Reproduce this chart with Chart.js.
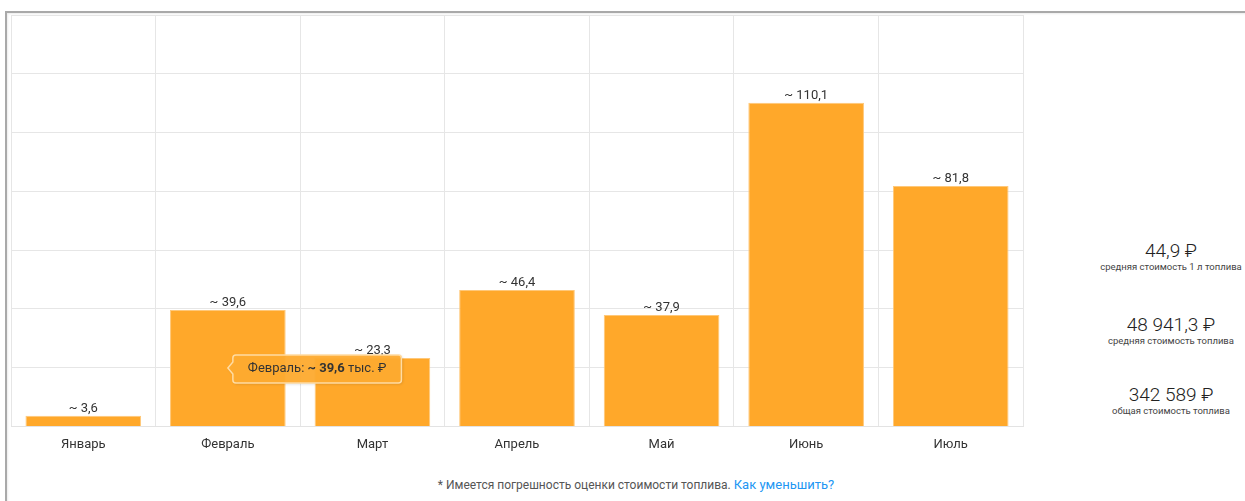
<!DOCTYPE html>
<html lang="ru">
<head>
<meta charset="utf-8">
<title>Стоимость топлива</title>
<script src="https://cdn.jsdelivr.net/npm/chart.js@4.4.0/dist/chart.umd.min.js"></script>
<style>
    html, body {
        margin: 0;
        padding: 0;
        width: 1245px;
        height: 501px;
        overflow: hidden;
        background: #fff;
        font-family: Roboto, "Noto Sans", sans-serif;
        color: #333;
    }
    .card {
        position: absolute;
        left: 5px;
        top: 11px;
        width: 1250px;
        height: 500px;
        border-left: 2px solid #a9a9a9;
        border-top: 2px solid #a9a9a9;
        box-shadow: inset 1px 1px 2px rgba(0,0,0,0.08);
    }
    .chart-box {
        position: absolute;
        left: 6px;
        top: 10px;
        width: 1022px;
        height: 454px;
    }
    .stat {
        position: absolute;
        left: 1094px;
        width: 154px;
        text-align: center;
    }
    .stat-value {
        font-size: 19px;
        font-weight: 300;
        line-height: 20px;
        color: #222;
    }
    .stat-caption {
        font-size: 9.5px;
        line-height: 12px;
        color: #444;
        white-space: nowrap;
    }
    .note {
        position: absolute;
        left: 0;
        width: 1272px;
        top: 477px;
        text-align: center;
        font-size: 12px;
        color: #555;
    }
    .note a {
        color: #2196f3;
        font-size: 13px;
        text-decoration: none;
    }
</style>
</head>
<body>
<div class="card"></div>
<div class="chart-box"><canvas id="fuelChart"></canvas></div>
<div id="stats"></div>
<div class="note">* Имеется погрешность оценки стоимости топлива. <a href="#">Как уменьшить?</a></div>

<script>
// Monthly fuel cost, thousand roubles
const months = ['Январь', 'Февраль', 'Март', 'Апрель', 'Май', 'Июнь', 'Июль'];
const costs = [3.6, 39.6, 23.3, 46.4, 37.9, 110.1, 81.8];
const yMax = 140;
const yStep = 20;

// Summary on the right
const statValues = ['44,9 ₽', '48 941,3 ₽', '342 589 ₽'];
const statCaptions = ['средняя стоимость 1 л топлива', 'средняя стоимость топлива', 'общая стоимость топлива'];
const statTops = [241, 315, 385];

// Tooltip shown for this month
const tooltipIndex = 1;

const barColor = '#ffa82a';

function fmt(v) {
    return v.toFixed(1).replace('.', ',');
}

// Summary blocks
const statsEl = document.getElementById('stats');
statValues.forEach((val, i) => {
    const el = document.createElement('div');
    el.className = 'stat';
    el.style.top = statTops[i] + 'px';
    el.innerHTML = '<div class="stat-value">' + val + '</div>' +
        '<div class="stat-caption">' + statCaptions[i] + '</div>';
    statsEl.appendChild(el);
});

// "~ 39,6" labels above the bars
const valueLabels = {
    id: 'valueLabels',
    afterDatasetsDraw(chart) {
        const ctx = chart.ctx;
        const meta = chart.getDatasetMeta(0);
        ctx.save();
        ctx.font = '13px Roboto, sans-serif';
        ctx.fillStyle = '#333';
        ctx.textAlign = 'center';
        ctx.textBaseline = 'alphabetic';
        meta.data.forEach((bar, i) => {
            ctx.fillText('~ ' + fmt(costs[i]), bar.x, bar.y - 4);
        });
        ctx.restore();
    }
};

// Static tooltip with a bold value part
const fixedTooltip = {
    id: 'fixedTooltip',
    afterDraw(chart) {
        const ctx = chart.ctx;
        const bar = chart.getDatasetMeta(0).data[tooltipIndex];
        const tipX = bar.x;
        const tipY = Math.round((bar.y + bar.base) / 2);

        const parts = [
            { text: months[tooltipIndex] + ': ', font: '13px Roboto, sans-serif' },
            { text: '~ ' + fmt(costs[tooltipIndex]), font: 'bold 13px Roboto, sans-serif' },
            { text: ' тыс. ₽', font: '13px Roboto, sans-serif' }
        ];
        ctx.save();
        let textW = 0;
        parts.forEach(p => {
            ctx.font = p.font;
            p.w = ctx.measureText(p.text).width;
            textW += p.w;
        });

        const padX = 15;
        const boxX = tipX + 5;
        const boxH = 28;
        const boxY = tipY - 13;
        const boxW = textW + padX * 2;
        const r = 3;

        ctx.beginPath();
        ctx.moveTo(boxX + r, boxY);
        ctx.lineTo(boxX + boxW - r, boxY);
        ctx.quadraticCurveTo(boxX + boxW, boxY, boxX + boxW, boxY + r);
        ctx.lineTo(boxX + boxW, boxY + boxH - r);
        ctx.quadraticCurveTo(boxX + boxW, boxY + boxH, boxX + boxW - r, boxY + boxH);
        ctx.lineTo(boxX + r, boxY + boxH);
        ctx.quadraticCurveTo(boxX, boxY + boxH, boxX, boxY + boxH - r);
        ctx.lineTo(boxX, tipY + 6);
        ctx.lineTo(tipX, tipY);
        ctx.lineTo(boxX, tipY - 6);
        ctx.lineTo(boxX, boxY + r);
        ctx.quadraticCurveTo(boxX, boxY, boxX + r, boxY);
        ctx.closePath();

        ctx.shadowColor = 'rgba(0,0,0,0.18)';
        ctx.shadowBlur = 3;
        ctx.shadowOffsetX = 1;
        ctx.shadowOffsetY = 1;
        ctx.fillStyle = 'rgba(255, 172, 48, 0.95)';
        ctx.fill();
        ctx.shadowColor = 'transparent';
        ctx.lineWidth = 1.5;
        ctx.strokeStyle = '#ffdca3';
        ctx.stroke();

        ctx.fillStyle = '#333';
        ctx.textBaseline = 'middle';
        ctx.textAlign = 'left';
        let x = boxX + padX;
        parts.forEach(p => {
            ctx.font = p.font;
            ctx.fillText(p.text, x, tipY + 1);
            x += p.w;
        });
        ctx.restore();
    }
};

const ctx = document.getElementById('fuelChart').getContext('2d');

const chart = new Chart(ctx, {
    type: 'bar',
    data: {
        labels: months,
        datasets: [{
            data: costs,
            backgroundColor: barColor,
            borderColor: '#ffc879',
            borderWidth: 1,
            barPercentage: 0.8,
            categoryPercentage: 1.0
        }]
    },
    options: {
        responsive: true,
        maintainAspectRatio: false,
        animation: false,
        events: [],
        layout: {
            padding: { top: 5, left: 5, right: 5, bottom: 0 }
        },
        scales: {
            x: {
                grid: {
                    color: '#e6e6e6',
                    drawTicks: false,
                    offset: true
                },
                border: {
                    color: '#e3e3e3'
                },
                ticks: {
                    color: '#333',
                    padding: 11,
                    font: { family: 'Roboto', size: 13 }
                }
            },
            y: {
                min: 0,
                max: yMax,
                grid: {
                    color: '#e6e6e6',
                    drawTicks: false
                },
                border: {
                    display: false
                },
                ticks: {
                    display: false,
                    stepSize: yStep
                }
            }
        },
        plugins: {
            legend: { display: false },
            tooltip: { enabled: false }
        }
    },
    plugins: [valueLabels, fixedTooltip]
});
</script>
</body>
</html>
